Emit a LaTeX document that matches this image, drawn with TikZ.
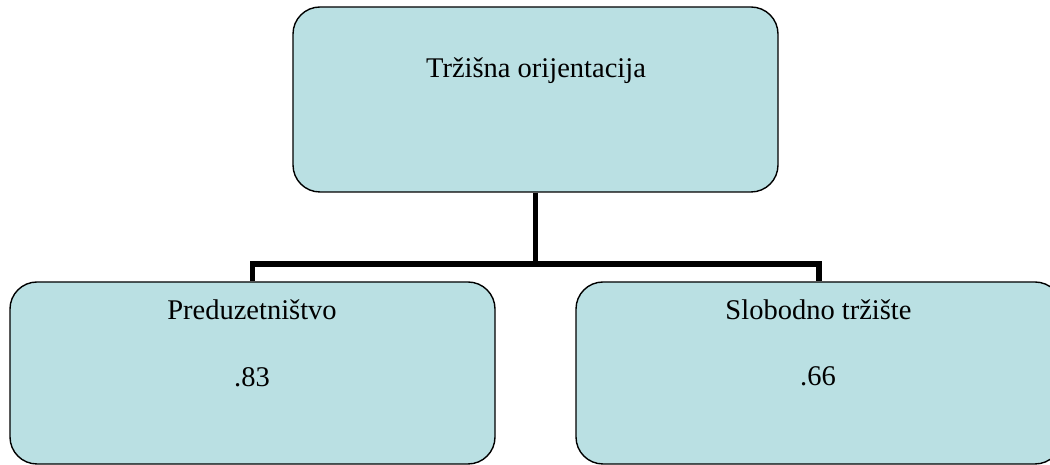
\documentclass[tikz,border=0pt]{standalone}
\usepackage{fontspec}
\setmainfont{Liberation Serif}
\definecolor{boxfill}{RGB}{186,224,227}
\begin{document}
\begin{tikzpicture}[x=1pt,y=1pt,
  box/.style={draw=black, line width=1.4pt, fill=boxfill, rounded corners=27pt,
    minimum width=485pt, inner sep=0pt},
  conn/.style={draw=black, line width=5.5pt},
  lbl/.style={anchor=base, inner sep=0pt, font=\fontsize{28.5}{34}\selectfont}]
\clip (0,0) rectangle (1050,465);
\node[box, minimum height=185pt] (top) at (535.5,365.5) {};
\node[box, minimum height=182pt, minimum width=485pt] (left) at (252.5,92) {};
\node[box, minimum height=182pt, minimum width=486pt] (right) at (819,92) {};
\node[lbl] (ttop) at (536,387) {Tržišna orijentacija};
\node[lbl] (tl1) at (252,145) {Preduzetništvo};
\node[lbl] (tl2) at (252,78) {.83};
\node[lbl] (tr1) at (818.5,145) {Slobodno tržište};
\node[lbl] (tr2) at (818,79) {.66};
\coordinate (barR) at (819,201);
\draw[conn] (left.north) -- (left.north |- barR) -- (barR) -- (right.north);
\draw[conn] (top.south) -- (top.south |- barR);
\end{tikzpicture}
\end{document}
